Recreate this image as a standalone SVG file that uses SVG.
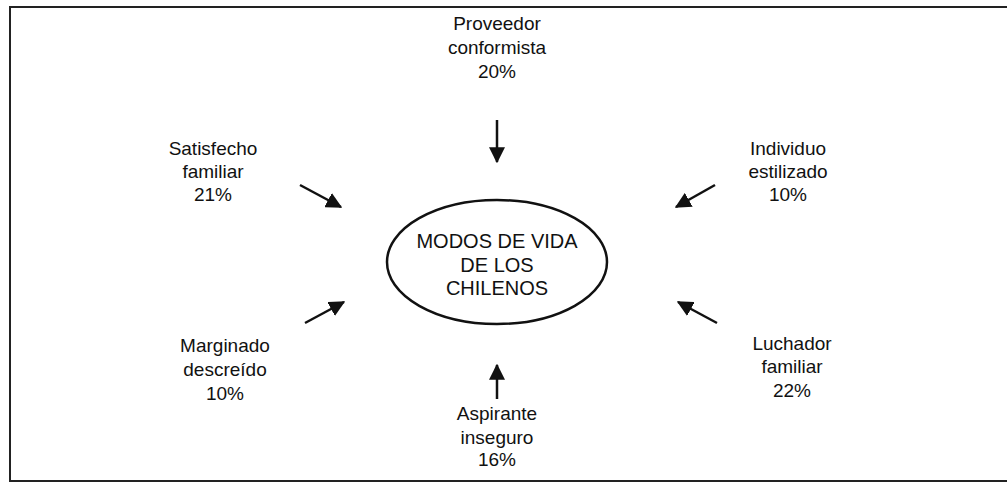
<svg xmlns="http://www.w3.org/2000/svg" width="1007" height="493" viewBox="0 0 1007 493">
<defs>
<style>
text{font-family:"Liberation Sans",Arial,sans-serif;font-size:19px;fill:#111;text-anchor:middle}
.c{stroke:#111;stroke-width:2.5;fill:none}
</style>
<marker id="a" viewBox="0 0 12 12" refX="11" refY="6" markerWidth="16" markerHeight="16" markerUnits="userSpaceOnUse" orient="auto">
<path d="M0,0 L12,6 L0,12 Z" fill="#111"/>
</marker>
</defs>
<rect id="frame" x="10" y="7" width="1010" height="474" fill="#fff" stroke="#222" stroke-width="2"/>
<g id="center">
<ellipse cx="497" cy="262" rx="110" ry="62" fill="none" stroke="#111" stroke-width="2.5"/>
<text x="497" y="248" style="font-size:20px">MODOS DE VIDA</text>
<text x="497" y="272" style="font-size:20px">DE LOS</text>
<text x="497" y="295" style="font-size:20px">CHILENOS</text>
</g>
<g id="proveedor">
<text x="497" y="30">Proveedor</text>
<text x="497" y="54">conformista</text>
<text x="497" y="78">20%</text>
</g>
<g id="satisfecho">
<text x="213" y="155">Satisfecho</text>
<text x="213" y="178">familiar</text>
<text x="213" y="201">21%</text>
</g>
<g id="individuo">
<text x="788" y="155">Individuo</text>
<text x="788" y="178">estilizado</text>
<text x="788" y="201">10%</text>
</g>
<g id="marginado">
<text x="225" y="352">Marginado</text>
<text x="225" y="376">descreído</text>
<text x="225" y="400">10%</text>
</g>
<g id="luchador">
<text x="792" y="350">Luchador</text>
<text x="792" y="373">familiar</text>
<text x="792" y="397">22%</text>
</g>
<g id="aspirante">
<text x="497" y="420">Aspirante</text>
<text x="497" y="444">inseguro</text>
<text x="497" y="466">16%</text>
</g>
<g id="connectors">
<line class="c" x1="497" y1="120" x2="497" y2="162" marker-end="url(#a)"/>
<line class="c" x1="300" y1="185" x2="341" y2="207" marker-end="url(#a)"/>
<line class="c" x1="715" y1="185" x2="676" y2="207" marker-end="url(#a)"/>
<line class="c" x1="305" y1="323" x2="344" y2="302" marker-end="url(#a)"/>
<line class="c" x1="717" y1="323" x2="678" y2="302" marker-end="url(#a)"/>
<line class="c" x1="497" y1="399" x2="497" y2="365" marker-end="url(#a)"/>
</g>
</svg>
